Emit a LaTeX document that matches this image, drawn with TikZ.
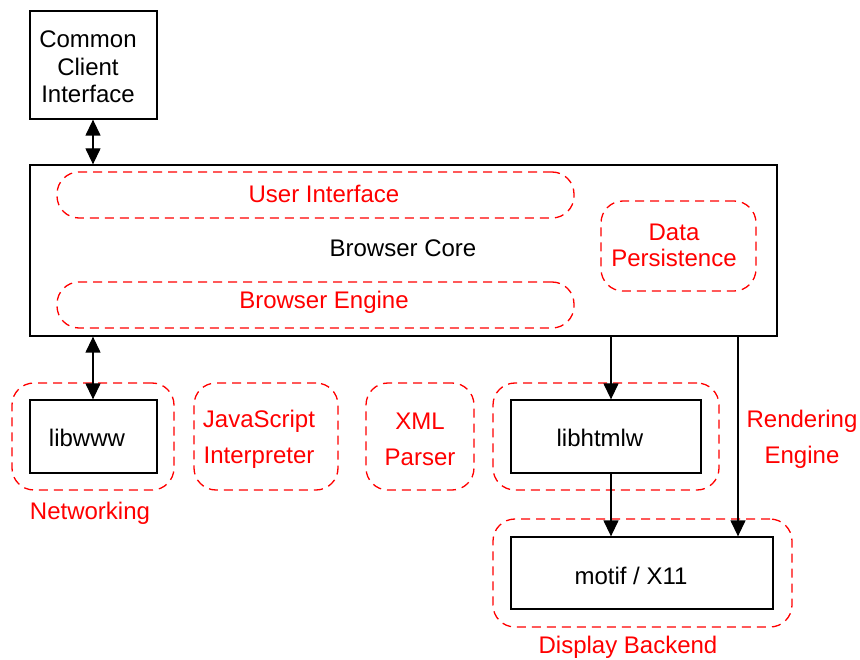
\documentclass[tikz,border=0pt]{standalone}
\usepackage{fontspec}
\setmainfont{Liberation Sans}
\usetikzlibrary{arrows.meta}
\begin{document}
\begin{tikzpicture}[x=1pt,y=-1pt,
  font=\fontsize{24}{27}\selectfont,
  blackbox/.style={draw=black,line width=1.3pt,fill=white,inner sep=0pt},
  group/.style={draw=red,line width=1.3pt,dash pattern=on 9pt off 6pt,rounded corners=22pt,inner sep=0pt},
  redtext/.style={text=red,align=center,inner sep=0pt},
  plain/.style={text=black,align=center,inner sep=0pt},
  tip/.tip={Triangle[length=16pt,width=15pt]},
  link/.style={line width=1.3pt,-tip},
  dlink/.style={line width=1.3pt,tip-tip}]
\useasboundingbox (0,0) rectangle (860,660);

% top client box
\node[blackbox,minimum width=127pt,minimum height=108pt] (cci) at (93.5,65) {};
\node[plain,font=\fontsize{24}{27.5}\selectfont] (ccitext) at (88,67) {Common\\Client\\Interface};

% browser core with its inner groups
\node[blackbox,minimum width=747pt,minimum height=171pt] (core) at (403.5,250.5) {};
\node[plain] (coretext) at (403,248) {Browser Core};
\node[group,minimum width=517pt,minimum height=46pt] (ui) at (315.5,195) {};
\node[redtext] (uitext) at (324,194) {User Interface};
\node[group,minimum width=517pt,minimum height=46pt] (be) at (315.5,305) {};
\node[redtext] (betext) at (324,302) {Browser Engine};
\node[group,minimum width=155pt,minimum height=90pt] (dp) at (678.5,246) {};
\node[redtext,font=\fontsize{24}{26}\selectfont] (dptext) at (674,245) {Data\\Persistence};

% lower row of subsystems
\node[group,minimum width=162pt,minimum height=107pt] (net) at (93,436.5) {};
\node[blackbox,minimum width=127pt,minimum height=73pt] (libwww) at (93.5,436.5) {};
\node[plain] (libwwwtext) at (87,438) {libwww};
\node[redtext] (nettext) at (90,513) {Networking};

\node[group,minimum width=144pt,minimum height=107pt] (js) at (266,436.5) {};
\node[redtext,font=\fontsize{24}{36}\selectfont] (jstext) at (259,439) {JavaScript\\Interpreter};

\node[group,minimum width=108pt,minimum height=107pt] (xml) at (420,436.5) {};
\node[redtext,font=\fontsize{24}{36}\selectfont] (xmltext) at (420,439) {XML\\Parser};

\node[group,minimum width=226pt,minimum height=107pt] (htg) at (606,436.5) {};
\node[blackbox,minimum width=190pt,minimum height=73pt] (libhtmlw) at (606,436.5) {};
\node[plain] (libhtmlwtext) at (600,438) {libhtmlw};

\node[redtext,font=\fontsize{24}{36}\selectfont] (rendtext) at (802,439) {Rendering\\Engine};

% display backend
\node[group,minimum width=299pt,minimum height=108pt] (disp) at (642.5,573) {};
\node[blackbox,minimum width=262pt,minimum height=72pt] (motif) at (642,573) {};
\node[plain] (motiftext) at (631,576) {motif / X11};
\node[redtext] (disptext) at (628,647) {Display Backend};

% connector columns
\coordinate (cl) at (93,0);
\coordinate (cr) at (611,0);
\coordinate (cf) at (738,0);

\draw[dlink] (cci.south -| cl) -- (core.north -| cl);
\draw[dlink] (core.south -| cl) -- (libwww.north -| cl);
\draw[link] (core.south -| cr) -- (libhtmlw.north -| cr);
\draw[link] (libhtmlw.south -| cr) -- (motif.north -| cr);
\draw[link] (core.south -| cf) -- (motif.north -| cf);
\end{tikzpicture}
\end{document}
